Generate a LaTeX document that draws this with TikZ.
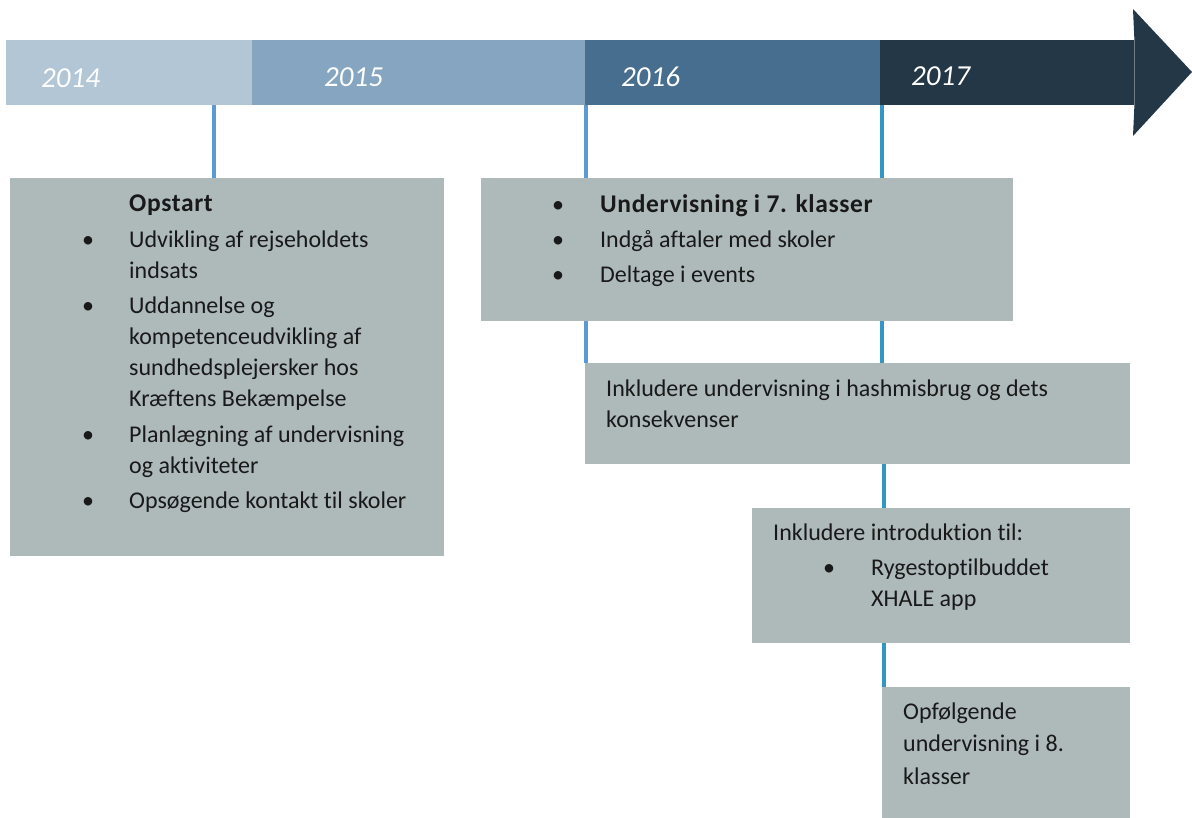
\documentclass[tikz,border=0pt]{standalone}
\usepackage{fontspec}
\setmainfont{Carlito}[Ligatures=NoCommon]
\definecolor{y14}{RGB}{178,198,214}
\definecolor{y15}{RGB}{134,165,193}
\definecolor{y16}{RGB}{71,110,143}
\definecolor{y17}{RGB}{36,55,70}
\definecolor{boxgray}{RGB}{174,185,185}
\definecolor{lineA}{RGB}{91,155,213}
\definecolor{lineB}{RGB}{52,150,196}
\definecolor{txtc}{RGB}{25,25,25}
\newcommand\BL[2]{\hbox{\makebox[#1][l]{\textbullet}#2}}
\newcommand\IL[2]{\hbox{\hspace*{#1}#2}}
\newcommand\TL[1]{\hbox{#1}}
\newcommand\BF[1]{{\fontsize{25.5}{28}\selectfont\bfseries\addfontfeatures{LetterSpace=2.5}#1}}
\tikzset{
  seg/.style={rectangle, inner sep=0pt, anchor=north west, minimum height=65pt},
  yearlbl/.style={inner sep=0pt, anchor=base west, text=white, font=\fontsize{29}{33}\selectfont\itshape},
  infobox/.style={rectangle, inner sep=0pt, anchor=north west, fill=boxgray},
  txt/.style={inner sep=0pt, anchor=base west, text=txtc, font=\fontsize{24}{28}\selectfont},
  connA/.style={draw=lineA, line width=3.2pt},
  connB/.style={draw=lineB, line width=3.2pt}
}
\begin{document}
\begin{tikzpicture}[x=1pt,y=-1pt]
\useasboundingbox (0,0) rectangle (1192,818);
% timeline bar
\node[seg, fill=y14, minimum width=246pt] (s14) at (6,40) {};
\node[seg, fill=y15, minimum width=333pt] (s15) at (252,40) {};
\node[seg, fill=y16, minimum width=295pt] (s16) at (585,40) {};
\node[seg, fill=y17, minimum width=254pt] (s17) at (880,40) {};
\fill[y17] (s17.north east) -- (1133,9) -- (1192,72) -- (1133,136) -- (s17.south east) -- cycle;
\node[yearlbl] (l14) at (41,88) {2014};
\node[yearlbl] (l15) at (324,87) {2015};
\node[yearlbl] (l16) at (621,87) {2016};
\node[yearlbl] (l17) at (911,86) {2017};
% boxes
\node[infobox, minimum width=434pt, minimum height=378pt] (b1) at (10,178) {};
\node[infobox, minimum width=532pt, minimum height=143pt] (b2) at (481,178) {};
\node[infobox, minimum width=545pt, minimum height=101pt] (b3) at (585,363) {};
\node[infobox, minimum width=378pt, minimum height=135pt] (b4) at (752,508) {};
\node[infobox, minimum width=248pt, minimum height=131pt] (b5) at (882,687) {};
% connectors
\coordinate (c1) at (214,0);
\coordinate (c2) at (586,0);
\coordinate (c3) at (882,0);
\draw[connA] (c1 |- s14.south) -- (c1 |- b1.north);
\draw[connA] (c2 |- s16.south) -- (c2 |- b2.north);
\draw[connA] (c2 |- b2.south) -- (c2 |- b3.north);
\draw[connB] (c3 |- s17.south) -- (c3 |- b2.north);
\draw[connB] (c3 |- b2.south) -- (c3 |- b3.north);
\draw[connB] ([xshift=2pt]c3 |- b3.south) -- ([xshift=2pt]c3 |- b4.north);
\draw[connB] ([xshift=2pt]c3 |- b4.south) -- ([xshift=2pt]c3 |- b5.north);
% texts
\node[txt] (t1) at (82,211.5) {\vtop{\baselineskip=31pt\lineskiplimit=-100pt
  \IL{47pt}{\BF{Opstart}}\vskip5pt
  \BL{47pt}{Udvikling af rejseholdets}
  \IL{47pt}{indsats}\vskip4pt
  \BL{47pt}{Uddannelse og}
  \IL{47pt}{kompetenceudvikling af}
  \IL{47pt}{sundhedsplejersker hos}
  \IL{47pt}{Kræftens Bekæmpelse}\vskip5pt
  \BL{47pt}{Planlægning af undervisning}
  \IL{47pt}{og aktiviteter}\vskip4pt
  \BL{47pt}{Opsøgende kontakt til skoler}}};
\node[txt] (t2) at (552,213) {\vtop{\baselineskip=35pt\lineskiplimit=-100pt
  \BL{48pt}{\BF{Undervisning i 7. klasser}}
  \BL{48pt}{Indgå aftaler med skoler}
  \BL{48pt}{Deltage i events}}};
\node[txt] (t3) at (606,396) {\vtop{\baselineskip=31pt\lineskiplimit=-100pt
  \TL{Inkludere undervisning i hashmisbrug og dets}
  \TL{konsekvenser}}};
\node[txt] (t4) at (773,540) {\vtop{\baselineskip=31pt\lineskiplimit=-100pt
  \TL{Inkludere introduktion til:}\vskip4pt
  \IL{50pt}{\makebox[48pt][l]{\textbullet}Rygestoptilbuddet}
  \IL{98pt}{XHALE app}}};
\node[txt] (t5) at (903,719) {\vtop{\baselineskip=32.5pt\lineskiplimit=-100pt
  \TL{Opfølgende}
  \TL{undervisning i 8.}
  \TL{klasser}}};
\end{tikzpicture}
\end{document}
